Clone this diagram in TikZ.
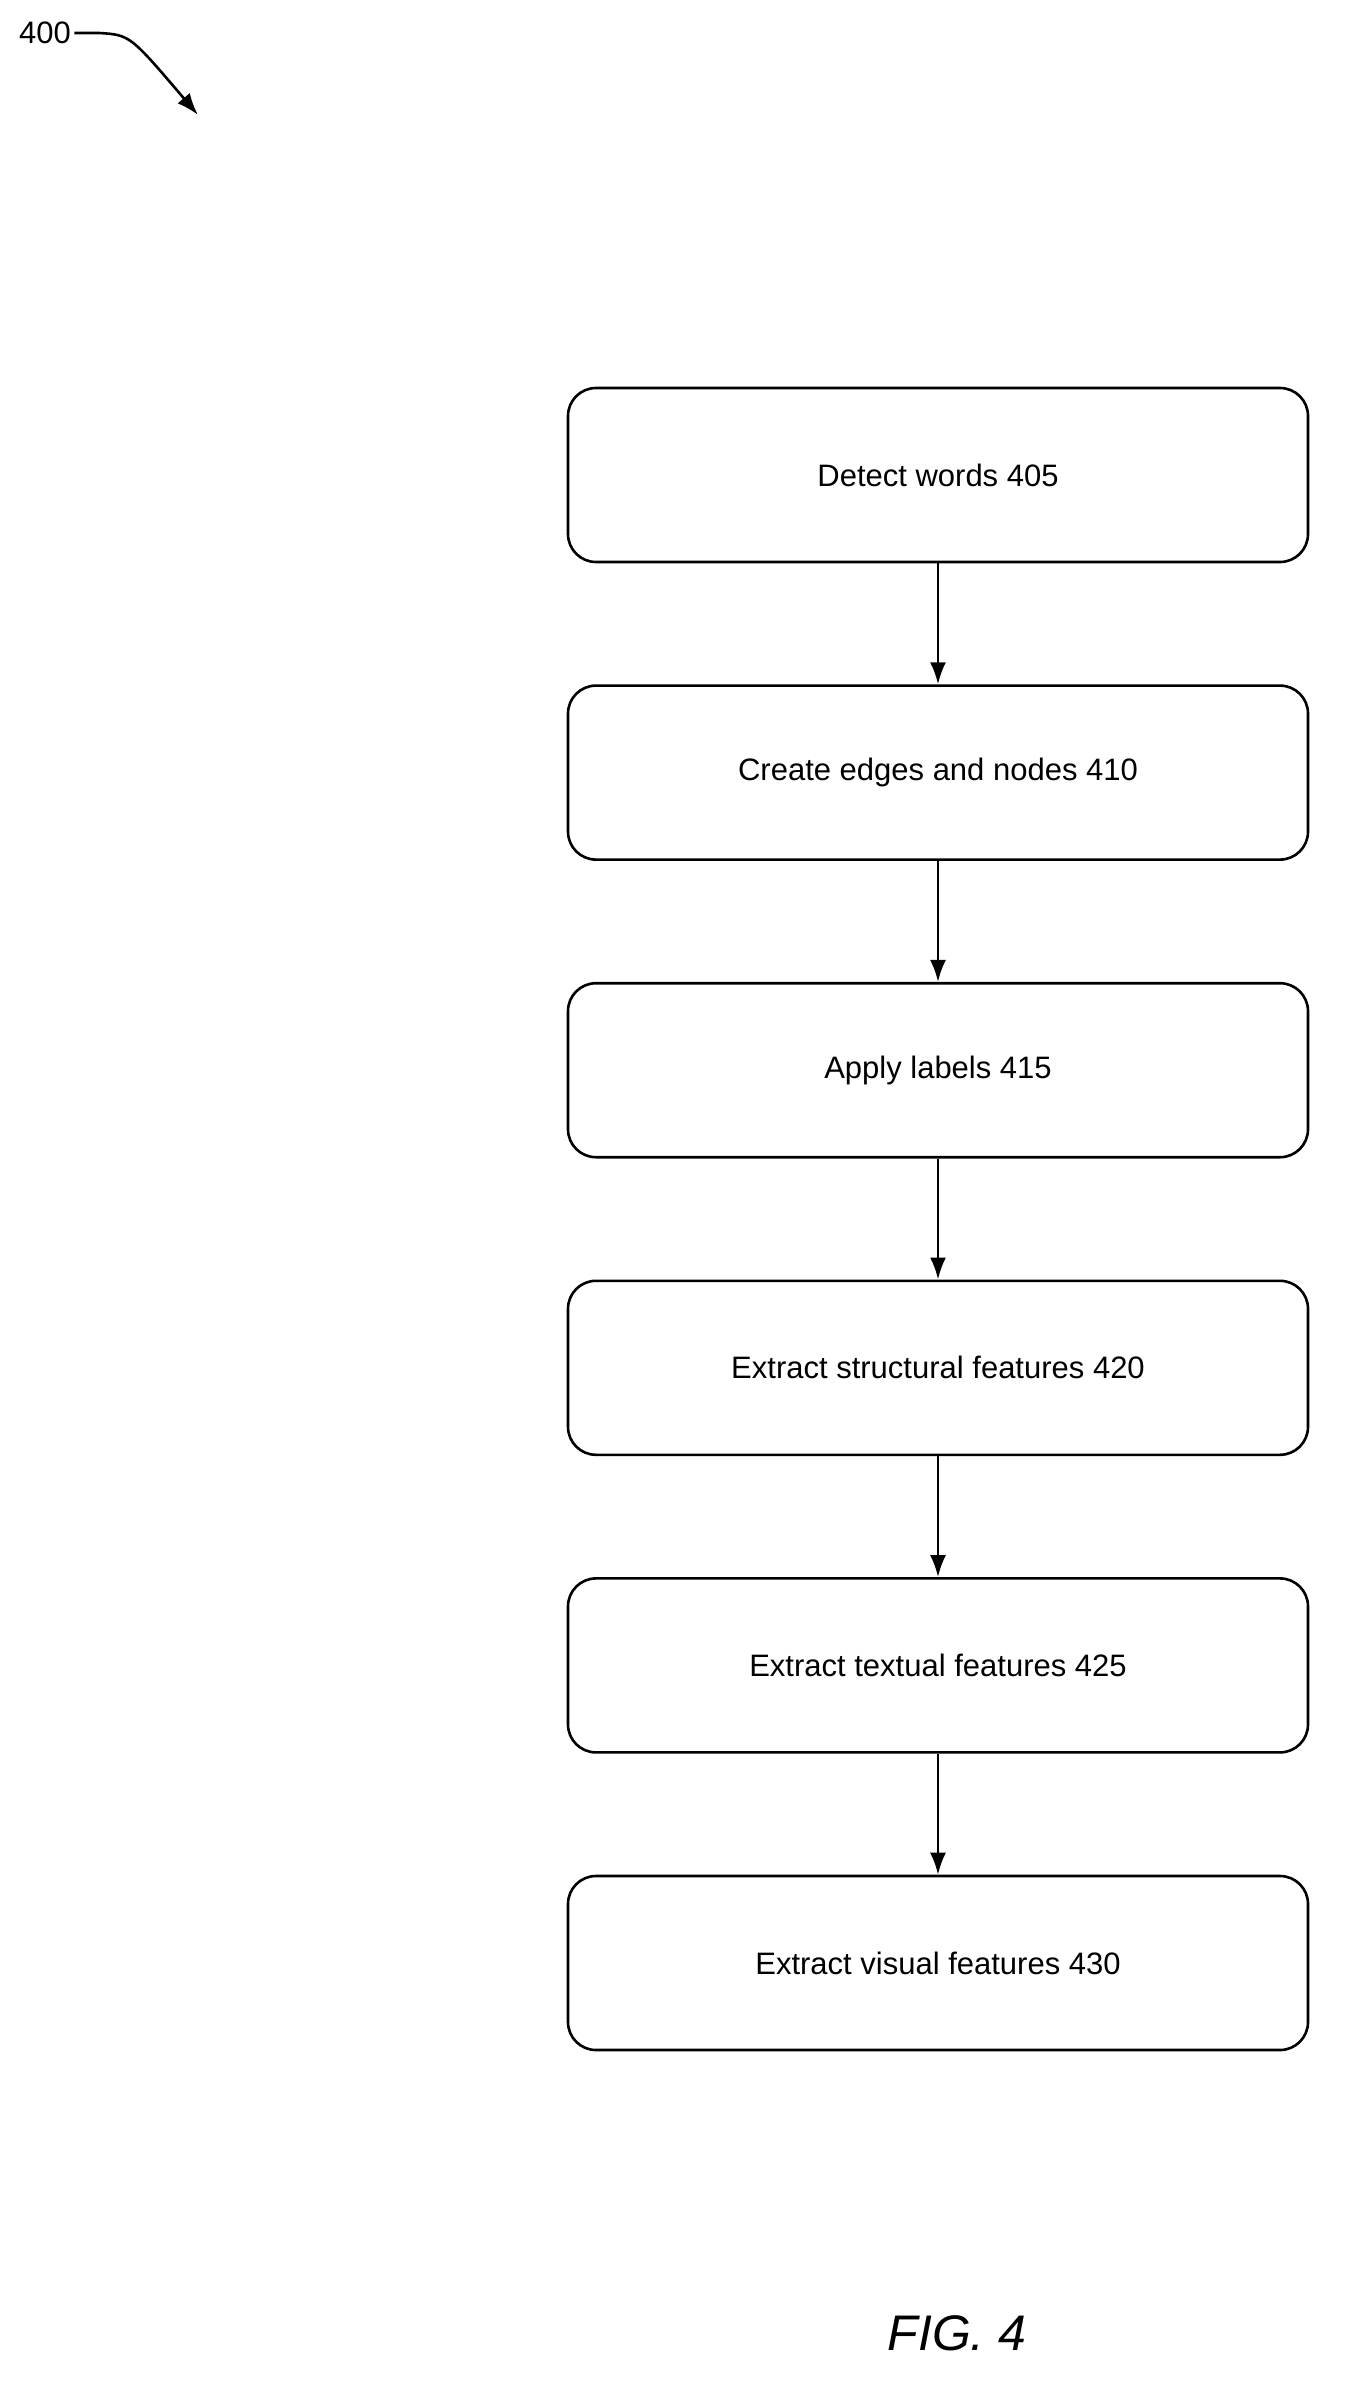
\documentclass[tikz,border=0pt]{standalone}
\usepackage{fontspec}
\setmainfont{Liberation Sans}
\usetikzlibrary{arrows.meta,positioning}
\tikzset{
  stage/.style = {draw, rectangle, rounded corners=28pt, line width=2.6pt,
                 minimum width=740pt, minimum height=174pt, align=center,
                 font=\fontsize{31}{37}\selectfont},
  flow/.style = {-{Latex[length=22pt,width=16pt]}, line width=2.6pt}
}
\begin{document}
\begin{tikzpicture}[x=1pt,y=-1pt]
\useasboundingbox (0,0) rectangle (1344,2401);

% reference label
\node[font=\fontsize{31}{37}\selectfont] (ref) at (45,33) {400};
\coordinate (reftip) at (198,115);
\draw[flow] (ref.east) -- ++(25,0) .. controls (130,35) .. (reftip);

% the steps, stacked
\node[stage] (s405) at (938,475) {Detect words 405};
\node[stage, below=121pt of s405] (s410) {Create edges and nodes 410};
\node[stage, below=121pt of s410] (s415) {Apply labels 415};
\node[stage, below=121pt of s415] (s420) {Extract structural features 420};
\node[stage, below=121pt of s420] (s425) {Extract textual features 425};
\node[stage, below=121pt of s425] (s430) {Extract visual features 430};

\draw[flow] (s405) -- (s410);
\draw[flow] (s410) -- (s415);
\draw[flow] (s415) -- (s420);
\draw[flow] (s420) -- (s425);
\draw[flow] (s425) -- (s430);

\node[font=\fontsize{50}{60}\selectfont\itshape] (fig) at (957,2333) {FIG. 4};
\end{tikzpicture}
\end{document}
